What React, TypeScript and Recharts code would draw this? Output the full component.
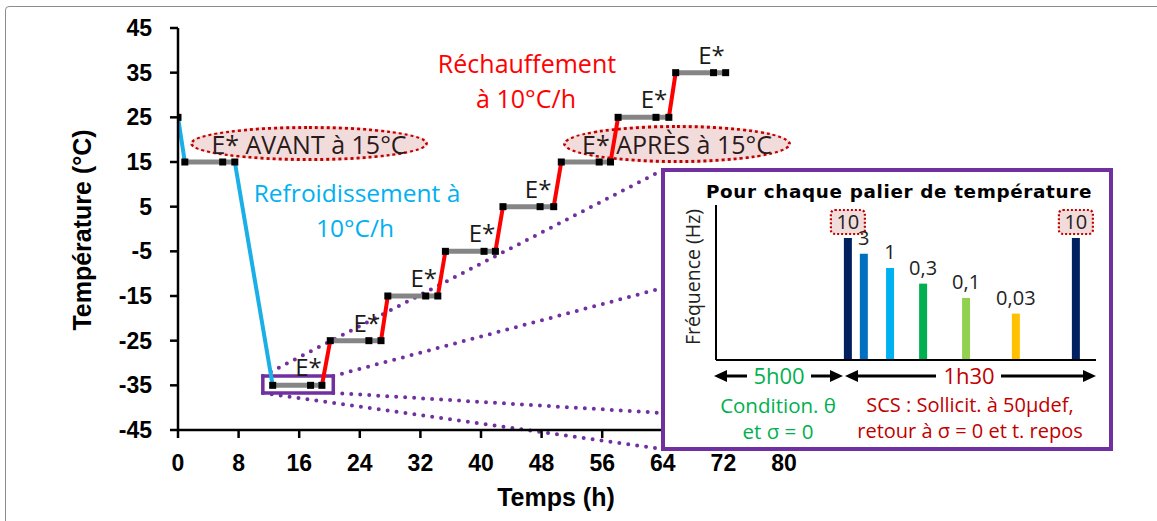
import React from 'react';
import {
  ComposedChart,
  Line,
  Scatter,
  XAxis,
  YAxis,
  ReferenceArea,
  ReferenceLine,
  BarChart,
  Bar,
  Cell,
  LabelList,
} from 'recharts';

// axe principal
const xTicks = [0, 8, 16, 24, 32, 40, 48, 56, 64, 72, 80];
const yTicks = [-45, -35, -25, -15, -5, 5, 15, 25, 35, 45];

// départ à 25°C puis palier de conditionnement à 15°C (début, E*, fin)
const initialTemp = 25;
const avantTemp = 15;
const avantTimes = [0.9, 5.9, 7.5];

// paliers pendant le réchauffement
const stepTemps = [-35, -25, -15, -5, 5, 15, 25, 35];
const stepStart = [12.5, 20.1, 27.7, 35.3, 42.9, 50.6, 58.1, 65.7];
const stepTest = [17.5, 25.2, 32.7, 40.4, 47.8, 55.6, 63.1, 70.7];
const stepEnd = [19.0, 26.8, 34.3, 41.9, 49.6, 57.1, 64.8, 72.3];
const stepLabels = ['E*', 'E*', 'E*', 'E*', 'E*', '', 'E*', 'E*'];

// zoom sur le palier -35°C et liaisons vers l'encart
const zoomHours = [11.2, 20.5];
const zoomTemps = [-36.7, -32.9];
const connectorFrom = [
  [11.2, -32.9],
  [20.5, -32.9],
  [20.5, -36.7],
  [11.2, -36.7],
];
const connectorToHour = 64;
const connectorToTemp = [13.2, -13.2, -41.2, -49.3];

// encart : fréquences de sollicitation
const freqHz = [10, 3, 1, 0.3, 0.1, 0.03, 10];
const freqLabels = ['10', '3', '1', '0,3', '0,1', '0,03', '10'];
const freqPos = [34.7, 38.9, 45.8, 54.5, 65.8, 78.9, 94.7];
const freqColors = ['#002060', '#0070C0', '#00B0F0', '#00B050', '#92D050', '#FFC000', '#002060'];

const coolData = [
  { t: 0, T: initialTemp },
  { t: avantTimes[0], T: avantTemp },
  { t: 4, T: null },
  { t: avantTimes[2], T: avantTemp },
  { t: stepStart[0], T: stepTemps[0] },
];

const plateauData: { t: number; T: number | null }[] = [
  { t: avantTimes[0], T: avantTemp },
  { t: avantTimes[2], T: avantTemp },
  { t: 10, T: null },
];
stepTemps.forEach((T, i) => {
  plateauData.push({ t: stepStart[i], T }, { t: stepEnd[i], T }, { t: stepEnd[i] + 0.5, T: null });
});

const warmData: { t: number; T: number | null }[] = [];
for (let i = 0; i < stepTemps.length - 1; i++) {
  warmData.push(
    { t: stepEnd[i], T: stepTemps[i] },
    { t: stepStart[i + 1], T: stepTemps[i + 1] },
    { t: stepStart[i + 1] + 1, T: null }
  );
}

const markerData = [
  { t: 0, T: initialTemp },
  { t: avantTimes[0], T: avantTemp },
  { t: avantTimes[1], T: avantTemp },
  { t: avantTimes[2], T: avantTemp },
  ...stepTemps.flatMap((T, i) => [
    { t: stepStart[i], T },
    { t: stepEnd[i], T },
  ]),
];
const testData = stepTemps.map((T, i) => ({ t: stepTest[i], T, lab: stepLabels[i] }));

const freqData = freqHz.map((hz, i) => ({ pos: freqPos[i], hz, lab: freqLabels[i] }));

const calibri = '"Open Sans", Lato, sans-serif';
const arial = '"Liberation Sans", Arial, sans-serif';

const Txt = ({
  x,
  y,
  size,
  color = '#000',
  weight = 400,
  family = calibri,
  rotate = 0,
  spacing = 0,
  sx = 1,
  children,
}: {
  x: number;
  y: number;
  size: number;
  color?: string;
  weight?: number;
  family?: string;
  rotate?: number;
  spacing?: number;
  sx?: number;
  children: React.ReactNode;
}) => (
  <div
    style={{
      position: 'absolute',
      left: x,
      top: y,
      transform: `translate(-50%, -50%) rotate(${rotate}deg) scaleX(${sx})`,
      fontSize: size,
      color,
      fontWeight: weight,
      fontFamily: family,
      letterSpacing: spacing,
      lineHeight: 1,
      whiteSpace: 'nowrap',
    }}
  >
    {children}
  </div>
);

const Square = (props: any) => {
  const { cx, cy, payload } = props;
  return (
    <g>
      <rect x={cx - 3.5} y={cy - 3.5} width={7} height={7} fill="#000" />
      {payload && payload.lab ? (
        <text x={cx - 2} y={cy - 9} textAnchor="middle" fontSize={24} fontFamily={calibri} fill="#1a1a1a">
          {payload.lab}
        </text>
      ) : null}
    </g>
  );
};

const FreqLabel = (props: any) => {
  const { x, y, width, value } = props;
  const cx = x + width / 2;
  const cy = y - 16;
  const boxed = value === '10';
  return (
    <g>
      {boxed && (
        <rect
          x={cx - 17}
          y={cy - 12}
          width={34}
          height={24}
          rx={4}
          fill="#F2DCDB"
          stroke="#C00000"
          strokeWidth={2.2}
          strokeDasharray="2 2"
        />
      )}
      <text x={cx} y={cy + 7} textAnchor="middle" fontSize={20} fontFamily={calibri} fill="#222">
        {value}
      </text>
    </g>
  );
};

const Ellipse = ({ left, top, width, height, text }: { left: number; top: number; width: number; height: number; text: string }) => (
  <div
    style={{
      position: 'absolute',
      left,
      top,
      width,
      height,
      boxSizing: 'border-box',
      borderRadius: '50%',
      background: '#F2DCDB',
      border: '3px dotted #C00000',
      display: 'flex',
      alignItems: 'center',
      justifyContent: 'center',
      fontFamily: calibri,
      fontSize: 25,
      color: '#2b1a1a',
      whiteSpace: 'nowrap',
    }}
  >
    {text}
  </div>
);

export default function App() {
  return (
    <div style={{ position: 'absolute', left: 0, top: 0, width: 1157, height: 521, overflow: 'hidden', background: '#fff' }}>
      <div
        style={{
          position: 'absolute',
          left: 5,
          top: 6,
          width: 1300,
          height: 700,
          border: '1.5px solid #8c8c8c',
          borderRadius: 4,
        }}
      />

      <Ellipse left={190} top={126} width={238} height={35} text="E* AVANT à 15°C" />
      <Ellipse left={563} top={125} width={228} height={38} text="E* APRÈS à 15°C" />

      <div style={{ position: 'absolute', left: 0, top: 0 }}>
        <ComposedChart width={1157} height={521} margin={{ top: 28, right: 373, bottom: 51, left: 118 }}>
          <XAxis
            dataKey="t"
            type="number"
            domain={[0, 80]}
            ticks={xTicks}
            interval={0}
            allowDataOverflow
            height={40}
            axisLine={{ stroke: '#000', strokeWidth: 2.5 }}
            tickLine={{ stroke: '#000', strokeWidth: 2.5 }}
            tickSize={8}
            tickMargin={17}
            tick={{ fill: '#000', fontSize: 23, fontWeight: 700, fontFamily: arial }}
          />
          <YAxis
            type="number"
            domain={[-45, 45]}
            ticks={yTicks}
            interval={0}
            allowDataOverflow
            width={60}
            axisLine={{ stroke: '#000', strokeWidth: 2.5 }}
            tickLine={{ stroke: '#000', strokeWidth: 2.5 }}
            tickSize={8}
            tickMargin={18}
            tick={{ fill: '#000', fontSize: 23, fontWeight: 700, fontFamily: arial }}
          />
          {connectorFrom.map((p, i) => (
            <ReferenceLine
              key={`conn-${i}`}
              segment={[
                { x: p[0], y: p[1] },
                { x: connectorToHour, y: connectorToTemp[i] },
              ]}
              stroke="#7030A0"
              strokeWidth={4}
              strokeDasharray="0 9"
              strokeLinecap="round"
              ifOverflow="visible"
            />
          ))}
          <Line data={plateauData} dataKey="T" stroke="#858585" strokeWidth={5} dot={false} activeDot={false} isAnimationActive={false} />
          <Line data={coolData} dataKey="T" stroke="#1AAFE6" strokeWidth={4} dot={false} activeDot={false} isAnimationActive={false} />
          <Line data={warmData} dataKey="T" stroke="#FF0000" strokeWidth={4} dot={false} activeDot={false} isAnimationActive={false} />
          <ReferenceArea
            x1={zoomHours[0]}
            x2={zoomHours[1]}
            y1={zoomTemps[0]}
            y2={zoomTemps[1]}
            fill="none"
            stroke="#7030A0"
            strokeWidth={3.5}
            ifOverflow="visible"
          />
          <Scatter data={markerData} dataKey="T" shape={Square} isAnimationActive={false} />
          <Scatter data={testData} dataKey="T" shape={Square} isAnimationActive={false} />
        </ComposedChart>
      </div>

      <Txt x={82} y={230} size={25} weight={700} family={arial} rotate={-90}>
        Température (°C)
      </Txt>
      <Txt x={556} y={497} size={25} weight={700} family={arial}>
        Temps (h)
      </Txt>
      <Txt x={357} y={193} size={24.5} color="#00B0F0">
        Refroidissement à
      </Txt>
      <Txt x={355} y={228} size={24.5} color="#00B0F0">
        10°C/h
      </Txt>
      <Txt x={527} y={63} size={25} color="#FF0000">
        Réchauffement
      </Txt>
      <Txt x={526} y={98} size={25} color="#FF0000">
        à 10°C/h
      </Txt>

      {/* encart */}
      <div
        style={{
          position: 'absolute',
          left: 661,
          top: 168,
          width: 452,
          height: 283,
          boxSizing: 'border-box',
          border: '4px solid #7030A0',
          background: '#fff',
        }}
      />
      <div style={{ position: 'absolute', left: 663, top: 169 }}>
        <BarChart width={448} height={280} data={freqData} margin={{ top: 36, right: 15, bottom: 88, left: 52 }}>
          <XAxis
            dataKey="pos"
            type="number"
            domain={[0, 100]}
            tick={false}
            tickLine={false}
            height={1}
            axisLine={{ stroke: '#000', strokeWidth: 2 }}
          />
          <YAxis
            scale="log"
            domain={[0.00085, 126]}
            allowDataOverflow
            tick={false}
            tickLine={false}
            width={1}
            axisLine={{ stroke: '#000', strokeWidth: 2 }}
          />
          <Bar dataKey="hz" barSize={8} isAnimationActive={false}>
            {freqData.map((d, i) => (
              <Cell key={`f-${i}`} fill={freqColors[i]} />
            ))}
            <LabelList dataKey="lab" content={FreqLabel} />
          </Bar>
        </BarChart>
      </div>

      <Txt x={899} y={192} size={17} weight={700} family='"DejaVu Sans", Verdana, sans-serif' spacing={0.6} sx={1.08}>
        Pour chaque palier de température
      </Txt>
      <Txt x={693} y={277} size={19.5} color="#222" rotate={-90}>
        Fréquence (Hz)
      </Txt>

      <svg width={1157} height={521} style={{ position: 'absolute', left: 0, top: 0, pointerEvents: 'none' }}>
        <line x1={724} y1={376} x2={747} y2={376} stroke="#000" strokeWidth={3} />
        <polygon points="714,376 727,370 727,382" fill="#000" />
        <line x1={811} y1={376} x2={833} y2={376} stroke="#000" strokeWidth={3} />
        <polygon points="843,376 830,370 830,382" fill="#000" />
        <polygon points="845,376 858,370 858,382" fill="#000" />
        <line x1={855} y1={376} x2={936} y2={376} stroke="#000" strokeWidth={3} />
        <line x1={1001} y1={376} x2={1086} y2={376} stroke="#000" strokeWidth={3} />
        <polygon points="1096,376 1083,370 1083,382" fill="#000" />
      </svg>

      <Txt x={779} y={375} size={22} color="#00B050">
        5h00
      </Txt>
      <Txt x={969} y={375} size={22} color="#C00000">
        1h30
      </Txt>
      <Txt x={778} y={405} size={20.5} color="#00B050">
        Condition. θ
      </Txt>
      <Txt x={778} y={431} size={20.5} color="#00B050">
        et σ = 0
      </Txt>
      <Txt x={970} y={405} size={20} color="#C00000">
        SCS : Sollicit. à 50µdef,
      </Txt>
      <Txt x={970} y={431} size={20} color="#C00000">
        retour à σ = 0 et t. repos
      </Txt>
    </div>
  );
}
